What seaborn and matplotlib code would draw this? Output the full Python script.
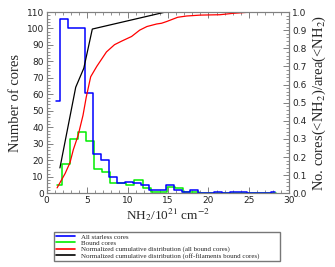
import matplotlib
matplotlib.use("Agg")
import matplotlib.pyplot as plt
import seaborn as sns
import pandas as pd
from matplotlib.ticker import MultipleLocator

# histogram bin centres (NH2 / 1e21 cm^-2) and counts
starless_x = [1.2, 2.2, 3.2, 4.2, 5.2, 6.2, 7.2, 8.2, 9.2, 10.2, 11.2, 12.2, 13.2, 14.2,
              15.2, 16.2, 17.2, 18.2, 19.2, 20.2, 21.2, 22.2, 23.2, 24.2, 25.2, 26.2, 27.2, 28.2]
starless_n = [56, 106, 100, 100, 61, 24, 20, 10, 6, 7, 6, 5, 2, 2,
              5, 2, 1, 2, 0, 0, 1, 0, 1, 1, 0, 0, 0, 1]

bound_x = [1.35, 2.35, 3.35, 4.35, 5.35, 6.35, 7.35, 8.35, 9.35, 10.35, 11.35, 12.35, 13.35, 14.35,
           15.35, 16.35, 17.35, 18.35, 19.35, 20.35, 21.35, 22.35, 23.35, 24.35, 25.35, 26.35, 27.35, 28.35]
bound_n = [5, 18, 33, 37, 32, 15, 13, 6, 6, 5, 8, 3, 1, 1,
           4, 3, 1, 1, 0, 0, 0, 0, 0, 0, 0, 0, 0, 0]

# normalized cumulative distributions
cum_all_x = [1.3, 2.3, 2.9, 3.3, 3.9, 4.5, 4.9, 5.45, 6.2, 7.4, 8.4, 9.3, 10.5, 11.5,
             12.4, 13.6, 14.2, 14.8, 16.2, 17.3, 19.0, 21.4, 23.1, 24.7, 28.4]
cum_all_y = [0.03, 0.11, 0.17, 0.24, 0.32, 0.43, 0.53, 0.643, 0.70, 0.78, 0.82, 0.84, 0.865, 0.90,
             0.92, 0.934, 0.938, 0.947, 0.971, 0.978, 0.983, 0.985, 0.993, 0.998, 1.0]

cum_off_x = [1.65, 3.6, 4.6, 5.65, 14.7]
cum_off_y = [0.14, 0.585, 0.69, 0.906, 1.0]

sns.set_style("ticks")
plt.rcParams['font.family'] = ['DejaVu Sans']
plt.rcParams['mathtext.fontset'] = 'stix'
serif = ['Liberation Serif', 'DejaVu Serif']
spine_col = '#808080'

fig = plt.figure(figsize=(3.35, 2.67), dpi=100)
ax = fig.add_axes([0.139, 0.276, 0.725, 0.679])
ax2 = ax.twinx()

sns.lineplot(x=bound_x, y=bound_n, ax=ax, color='#00ee00', lw=1.1,
             drawstyle='steps-mid', label='Bound cores', legend=False)
sns.lineplot(x=starless_x, y=starless_n, ax=ax, color='#0000ff', lw=1.1,
             drawstyle='steps-mid', label='All starless cores', legend=False)
sns.lineplot(x=cum_all_x, y=cum_all_y, ax=ax2, color='red', lw=0.9,
             label='Normalized cumulative distribution (all bound cores)', legend=False)
sns.lineplot(x=cum_off_x, y=cum_off_y, ax=ax2, color='black', lw=0.9,
             label='Normalized cumulative distribution (off-filaments bound cores)', legend=False)

ax.set_xlim(0, 30)
ax.set_ylim(0, 110)
ax2.set_ylim(0, 1.0)

ax.xaxis.set_major_locator(MultipleLocator(5))
ax.xaxis.set_minor_locator(MultipleLocator(1))
ax.yaxis.set_major_locator(MultipleLocator(10))
ax.yaxis.set_minor_locator(MultipleLocator(2))
ax2.yaxis.set_major_locator(MultipleLocator(0.1))
ax2.yaxis.set_minor_locator(MultipleLocator(0.02))
ax2.yaxis.set_major_formatter(matplotlib.ticker.FormatStrFormatter('%.1f'))

for a in (ax, ax2):
    for s in a.spines.values():
        s.set_color(spine_col)
        s.set_linewidth(0.8)
ax.tick_params(which='both', direction='in', color=spine_col, top=True, right=False,
               labelsize=6.5, pad=2, labelcolor='#222222')
ax.tick_params(which='major', length=4, width=0.7)
ax.tick_params(which='minor', length=2, width=0.6)
ax2.tick_params(which='both', direction='in', color=spine_col, labelsize=6.5, pad=2,
                labelcolor='#222222')
ax2.tick_params(which='major', length=4, width=0.7)
ax2.tick_params(which='minor', length=2, width=0.6)

ax.set_xlabel('NH$_2$/10$^{21}$ cm$^{-2}$', family=serif, fontsize=9.5, labelpad=1)
ax.set_ylabel('Number of cores', family=serif, fontsize=10.5, labelpad=3)
ax2.set_ylabel('No. cores(<NH$_2$)/area(<NH$_2$)', family=serif, fontsize=10.5, labelpad=3)

h1, l1 = ax.get_legend_handles_labels()
h2, l2 = ax2.get_legend_handles_labels()
order = [1, 0]
handles = [h1[i] for i in order] + h2
labels = [l1[i] for i in order] + l2
leg = fig.legend(handles, labels, loc='lower left', bbox_to_anchor=(0.161, 0.0225, 0.675, 0.117),
                 mode='expand', prop={'family': serif, 'size': 5}, frameon=True, fancybox=False,
                 handlelength=2.7, handletextpad=0.9, labelspacing=0.05, borderpad=0.3,
                 borderaxespad=0)
leg.get_frame().set_edgecolor('#555555')
leg.get_frame().set_linewidth(1.0)
for line in leg.get_lines():
    line.set_linewidth(1.2)

fig.savefig('out.png', dpi=100)
